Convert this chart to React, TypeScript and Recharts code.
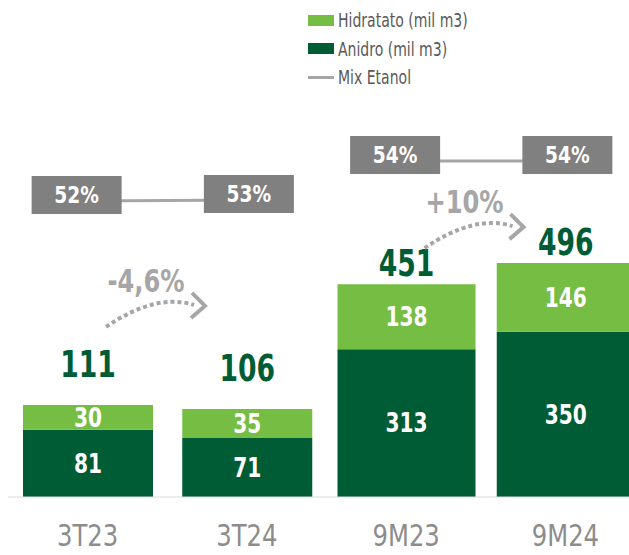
import React from "react";
import {
  ComposedChart,
  Bar,
  Line,
  XAxis,
  YAxis,
  Legend,
  LabelList,
} from "recharts";

const categories = ["3T23", "3T24", "9M23", "9M24"];
const anidro = [81, 71, 313, 350]; // mil m3
const hidratado = [30, 35, 138, 146]; // mil m3
const mixEtanol = [52, 53, 54, 54]; // %
const growth = ["-4,6%", "+10%"]; // one per pair of periods
const groups = ["q", "q", "m", "m"]; // quarter vs nine months, each drawn on its own scale

const HID = "#76BD43";
const ANI = "#005C35";
const GREY = "#A6A6A6";
const BOX = "#808080";
const FONT = "'DejaVu Sans Condensed', 'DejaVu Sans', sans-serif";

// label placement per group
const TOTAL_LIFT: Record<string, number> = { q: 28, m: 8 };
const ARROW_RISE: Record<string, number> = { q: 78, m: 36 };

const totals = anidro.map((a, i) => a + hidratado[i]);

const data = categories.map((cat, i) => {
  const q = groups[i] === "q";
  return {
    cat,
    anidroQ: q ? anidro[i] : null,
    hidQ: q ? hidratado[i] : null,
    mixQ: q ? mixEtanol[i] : null,
    anidroM: q ? null : anidro[i],
    hidM: q ? null : hidratado[i],
    mixM: q ? null : mixEtanol[i],
  };
});

const legendItems = [
  { label: "Hidratato (mil m3)", color: HID, kind: "rect" },
  { label: "Anidro (mil m3)", color: ANI, kind: "rect" },
  { label: "Mix Etanol", color: GREY, kind: "line" },
];

function geom(p: any) {
  const vb = p.viewBox ?? {};
  return {
    x: Number(vb.x ?? p.x ?? 0),
    y: Number(vb.y ?? p.y ?? 0),
    width: Number(vb.width ?? p.width ?? 0),
    height: Number(vb.height ?? p.height ?? 0),
  };
}

// condensed svg text (the installed fonts are wider than the original)
function NText(props: any) {
  const { x, y, sx, children, ...rest } = props;
  return (
    <text
      transform={`translate(${x},${y}) scale(${sx},1)`}
      x={0}
      y={0}
      textAnchor="middle"
      fontFamily={FONT}
      {...rest}
    >
      {children}
    </text>
  );
}

function InnerLabel(p: any) {
  if (p.value == null) return null;
  const { x, y, width, height } = geom(p);
  return (
    <NText
      x={x + width / 2}
      y={y + height / 2}
      sx={0.83}
      dominantBaseline="central"
      fill="#fff"
      fontWeight="bold"
      fontSize={27}
    >
      {p.value}
    </NText>
  );
}

function TotalLabel(p: any) {
  const i = categories.indexOf(p.value);
  if (i < 0) return null;
  const { x, y, width } = geom(p);
  const g = groups[i];
  const cx = x + width / 2;
  const first = i % 2 === 0;
  const sx = cx + 18;
  const sy = y - ARROW_RISE[g];
  return (
    <g>
      <NText
        x={cx}
        y={y - TOTAL_LIFT[g]}
        sx={0.8}
        fill={ANI}
        fontWeight="bold"
        fontSize={37}
      >
        {totals[i]}
      </NText>
      {first && (
        <g>
          <path
            d={`M ${sx} ${sy} Q ${sx + 50} ${sy - 34} ${sx + 88} ${sy - 22}`}
            fill="none"
            stroke={GREY}
            strokeWidth={4}
            strokeDasharray="4 3"
          />
          <path
            d={`M ${sx + 86} ${sy - 34} L ${sx + 99} ${sy - 21} L ${sx + 85} ${sy - 9}`}
            fill="none"
            stroke={GREY}
            strokeWidth={4}
          />
          <NText
            x={sx + 40}
            y={sy - 46}
            sx={0.84}
            dominantBaseline="central"
            fill={GREY}
            fontWeight="bold"
            fontSize={32}
          >
            {growth[i / 2]}
          </NText>
        </g>
      )}
    </g>
  );
}

function MixLabel(p: any) {
  if (p.value == null) return null;
  const { x, y } = geom(p);
  const cx = x + (p.index % 2 === 0 ? -11 : 2);
  const cy = y - 6;
  return (
    <g>
      <rect x={cx - 45} y={cy - 19} width={90} height={38} fill={BOX} />
      <NText
        x={cx}
        y={cy}
        sx={0.9}
        dominantBaseline="central"
        fill="#fff"
        fontWeight="bold"
        fontSize={23}
      >
        {p.value}%
      </NText>
    </g>
  );
}

function CategoryTick(p: any) {
  return (
    <NText x={p.x} y={p.y + 49} sx={0.9} fill="#8C8C8C" fontSize={30}>
      {p.payload.value}
    </NText>
  );
}

function LegendBox() {
  return (
    <div style={{ fontFamily: FONT, fontSize: 19, color: "#595959" }}>
      {legendItems.map((it) => (
        <div
          key={it.label}
          style={{ display: "flex", alignItems: "center", height: 28.5 }}
        >
          <span
            style={{
              width: 26,
              height: it.kind === "rect" ? 11 : 3,
              background: it.color,
              flex: "none",
            }}
          />
          <span
            style={{
              marginLeft: 4,
              whiteSpace: "nowrap",
              display: "inline-block",
              transform: "scaleX(0.82)",
              transformOrigin: "left center",
            }}
          >
            {it.label}
          </span>
        </div>
      ))}
    </div>
  );
}

export default function App() {
  return (
    <div
      style={{
        position: "absolute",
        left: 0,
        top: 0,
        width: 629,
        height: 555,
        overflow: "hidden",
        background: "#fff",
      }}
    >
      <ComposedChart
        width={645}
        height={555}
        data={data}
        margin={{ top: 0, right: 0, bottom: 0, left: 8 }}
      >
        <XAxis xAxisId="m" dataKey="cat" hide height={0} />
        <XAxis
          xAxisId="q"
          dataKey="cat"
          height={58}
          axisLine={{ stroke: "#D9D9D9" }}
          tickLine={false}
          tickSize={0}
          tickMargin={0}
          tick={<CategoryTick />}
          interval={0}
        />
        <YAxis yAxisId="q" hide domain={[0, 599]} />
        <YAxis yAxisId="m" hide domain={[0, 1053]} />
        <YAxis yAxisId="pq" hide domain={[-244, 253]} />
        <YAxis yAxisId="pm" hide domain={[-282, 215]} />
        <Legend
          layout="vertical"
          align="center"
          verticalAlign="middle"
          wrapperStyle={{ left: 308, top: 6, width: 200 }}
          content={() => <LegendBox />}
        />
        <Bar dataKey="anidroQ" xAxisId="q" yAxisId="q" stackId="q" barSize={130} fill={ANI} isAnimationActive={false}>
          <LabelList dataKey="anidroQ" content={<InnerLabel />} />
        </Bar>
        <Bar dataKey="hidQ" xAxisId="q" yAxisId="q" stackId="q" barSize={130} fill={HID} isAnimationActive={false}>
          <LabelList dataKey="hidQ" content={<InnerLabel />} />
          <LabelList dataKey="cat" content={<TotalLabel />} />
        </Bar>
        <Bar dataKey="anidroM" xAxisId="m" yAxisId="m" stackId="m" barSize={138} fill={ANI} isAnimationActive={false}>
          <LabelList dataKey="anidroM" content={<InnerLabel />} />
        </Bar>
        <Bar dataKey="hidM" xAxisId="m" yAxisId="m" stackId="m" barSize={138} fill={HID} isAnimationActive={false}>
          <LabelList dataKey="hidM" content={<InnerLabel />} />
          <LabelList dataKey="cat" content={<TotalLabel />} />
        </Bar>
        <Line dataKey="mixQ" xAxisId="q" yAxisId="pq" stroke={GREY} strokeWidth={3} dot={false} activeDot={false} isAnimationActive={false}>
          <LabelList dataKey="mixQ" content={<MixLabel />} />
        </Line>
        <Line dataKey="mixM" xAxisId="m" yAxisId="pm" stroke={GREY} strokeWidth={3} dot={false} activeDot={false} isAnimationActive={false}>
          <LabelList dataKey="mixM" content={<MixLabel />} />
        </Line>
      </ComposedChart>
    </div>
  );
}
